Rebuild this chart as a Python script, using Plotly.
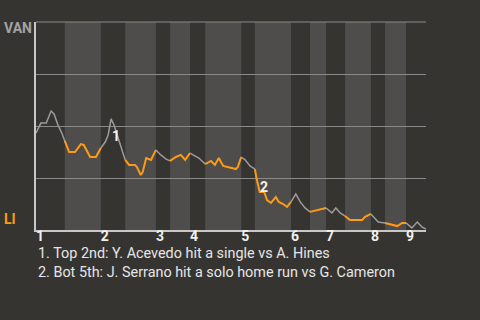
import plotly.graph_objects as go

# Game progress (event position) and VAN win probability
progress = [0.0, 1.0, 2.1, 3.1, 3.7, 4.5, 5.3, 5.9, 6.8, 8.0,
            9.2, 9.8, 11.1, 12.3, 13.3, 14.2, 14.8, 15.4, 16.0, 17.6,
            18.3, 19.1, 20.3, 20.7, 21.5, 21.9, 22.6, 23.6, 24.6, 25.6,
            26.7, 27.5, 28.7, 29.7, 30.6, 31.6, 32.6, 33.4, 34.7, 35.9,
            36.7, 37.5, 38.4, 39.8, 41.0, 41.4, 42.1, 42.9, 43.9, 44.9,
            45.3, 45.9, 46.8, 47.4, 48.2, 49.2, 49.8, 50.7, 51.5, 52.3,
            53.3, 54.2, 55.2, 56.2, 57.6, 59.1, 59.5, 60.7, 61.5, 62.4,
            63.4, 64.4, 66.9, 67.5, 68.7, 70.2, 71.6, 74.1, 75.1, 75.9,
            77.1, 78.2, 79.2, 80.0]
van_wp = [0.466, 0.514, 0.514, 0.572, 0.558, 0.505, 0.466, 0.428, 0.375, 0.375,
          0.413, 0.409, 0.351, 0.351, 0.394, 0.423, 0.457, 0.534, 0.505, 0.385,
          0.337, 0.313, 0.313, 0.303, 0.264, 0.279, 0.346, 0.337, 0.385, 0.361,
          0.341, 0.332, 0.351, 0.361, 0.337, 0.370, 0.356, 0.346, 0.317, 0.332,
          0.313, 0.346, 0.308, 0.298, 0.293, 0.303, 0.351, 0.337, 0.308, 0.293,
          0.240, 0.183, 0.183, 0.144, 0.130, 0.159, 0.135, 0.125, 0.111, 0.135,
          0.173, 0.135, 0.106, 0.087, 0.096, 0.106, 0.106, 0.082, 0.106, 0.082,
          0.067, 0.048, 0.048, 0.063, 0.077, 0.038, 0.034, 0.019, 0.034, 0.034,
          0.010, 0.038, 0.014, 0.005]

# Half-inning boundaries (top 1st ... top 9th end)
half_bounds = [0.0, 5.9, 13.3, 18.3, 24.6, 27.5, 31.6, 34.7, 42.1, 44.9,
               52.3, 56.2, 59.5, 63.4, 68.7, 71.6, 75.9, 80.0]
inning_labels = ["1", "2", "3", "4", "5", "6", "7", "8", "9"]

# Key events: index into the series
event_idx = [17, 51]
event_labels = ["1", "2"]
notes = ["1. Top 2nd: Y. Acevedo hit a single vs A. Hines",
         "2. Bot 5th: J. Serrano hit a solo home run vs G. Cameron"]

BG = "#363431"
BAND = "#4e4d4b"
GREY = "#9b9b9b"
ORANGE = "#ff9a15"
GRID = "#8a8a8a"

fig = go.Figure()

shapes = []
for i in range(len(half_bounds) - 1):
    if i % 2 == 1:
        shapes.append(dict(type="rect", xref="x", yref="paper",
                           x0=half_bounds[i], x1=half_bounds[i + 1], y0=0, y1=1,
                           fillcolor=BAND, line=dict(width=0), layer="below"))
shapes.append(dict(type="line", xref="paper", yref="paper", x0=0, x1=1, y0=1, y1=1,
                   line=dict(color=GRID, width=1), layer="below"))

for i in range(len(half_bounds) - 1):
    lo, hi = half_bounds[i], half_bounds[i + 1]
    xs = [x for x in progress if lo - 1e-9 <= x <= hi + 1e-9]
    ys = [v for x, v in zip(progress, van_wp) if lo - 1e-9 <= x <= hi + 1e-9]
    top = (i % 2 == 0)
    fig.add_trace(go.Scatter(x=xs, y=ys, mode="lines",
                             line=dict(color=GREY if top else ORANGE,
                                       width=1.5 if top else 2),
                             hoverinfo="skip", showlegend=False))

annotations = []
shifts = [(5, -17), (4, 5)]
for k, idx in enumerate(event_idx):
    annotations.append(dict(x=progress[idx], y=van_wp[idx], xref="x", yref="y",
                            text="<b>" + event_labels[k] + "</b>", showarrow=False,
                            xshift=shifts[k][0], yshift=shifts[k][1],
                            font=dict(family="Roboto", size=14, color="#f2f2f2")))

for k, note in enumerate(notes):
    annotations.append(dict(x=0, y=0, xref="paper", yref="paper",
                            xanchor="left", yanchor="middle",
                            xshift=0, yshift=-23 - 19 * k,
                            text=note, showarrow=False,
                            font=dict(family="Roboto", size=14.4, color="#e6e6e6")))

annotations.append(dict(x=0, y=1, xref="paper", yref="paper", xanchor="left",
                        yanchor="middle", xshift=-34, yshift=-6,
                        text="<b>VAN</b>", showarrow=False,
                        font=dict(family="Roboto", size=14, color="#a3a3a3")))
annotations.append(dict(x=0, y=0, xref="paper", yref="paper", xanchor="left",
                        yanchor="middle", xshift=-34, yshift=11,
                        text="<b>LI</b>", showarrow=False,
                        font=dict(family="Roboto", size=14, color=ORANGE)))

tick_vals = [half_bounds[2 * i] for i in range(len(inning_labels))]

fig.update_layout(
    width=480, height=320,
    margin=dict(l=36, r=54, t=22, b=90),
    paper_bgcolor=BG, plot_bgcolor=BG,
    shapes=shapes, annotations=annotations,
    xaxis=dict(range=[0, 80], tickvals=tick_vals, ticktext=inning_labels,
               showgrid=False, zeroline=False, showline=True,
               linecolor="#c8c8c8", linewidth=1.5, ticks="",
               ticklabelshift=4, ticklabelstandoff=-8,
               tickfont=dict(family="Roboto", size=14, color="#f0f0f0", weight="bold")),
    yaxis=dict(range=[0, 1], tickvals=[0.25, 0.5, 0.75, 1.0],
               showticklabels=False, showgrid=True, gridcolor=GRID,
               gridwidth=1, zeroline=False, showline=True,
               linecolor="#c8c8c8", linewidth=1.5, ticks=""),
)

fig.write_html("out.html")
